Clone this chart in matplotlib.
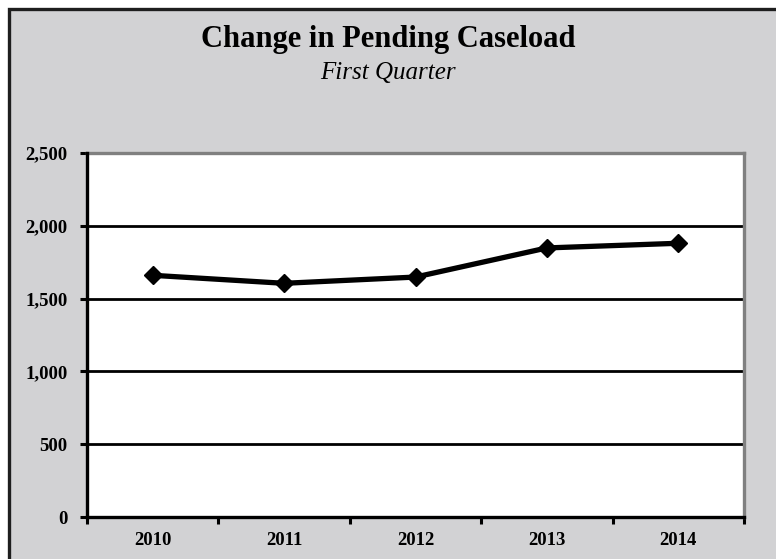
import numpy as np
import matplotlib
matplotlib.use("Agg")
import matplotlib.pyplot as plt
from matplotlib.patches import Rectangle
from matplotlib.ticker import FuncFormatter, FixedLocator

# data
years = ["2010", "2011", "2012", "2013", "2014"]
caseload = [1660, 1605, 1648, 1848, 1880]
y_ticks = [0, 500, 1000, 1500, 2000, 2500]

plt.rcParams['font.family'] = ['Liberation Serif', 'DejaVu Serif']

fig = plt.figure(figsize=(7.76, 5.59), dpi=100, facecolor='white')

# grey panel with dark border on top/left
bg = Rectangle((9 / 776, -0.2), 1.2, 1.2 - 9 / 559, transform=fig.transFigure,
               facecolor='#d2d2d4', edgecolor='#1e1e1e', linewidth=2.4, zorder=0)
fig.add_artist(bg)

ax = fig.add_axes([87 / 776, 42 / 559, (744 - 87) / 776, (517 - 153) / 559])
ax.set_facecolor('white')

x = np.arange(1, len(years) + 1)
ax.plot(x, caseload, color='black', linewidth=3.8, marker='D', markersize=9,
        markerfacecolor='black', markeredgecolor='black', zorder=5, clip_on=False)

ax.set_xlim(0.5, len(years) + 0.5)
ax.set_ylim(0, 2500)

# gridlines
for v in y_ticks[1:-1]:
    ax.axhline(v, color='black', linewidth=2.0, zorder=1)

ax.yaxis.set_major_locator(FixedLocator(y_ticks))
ax.yaxis.set_major_formatter(FuncFormatter(lambda v, p: "{:,}".format(int(v))))
ax.tick_params(axis='y', direction='out', length=5, width=2.2, pad=9,
               labelsize=13.5)

# category boundaries as major ticks, labels at centres
ax.xaxis.set_major_locator(FixedLocator(np.arange(0.5, len(years) + 1.0, 1.0)))
ax.xaxis.set_major_formatter(FuncFormatter(lambda v, p: ""))
ax.xaxis.set_minor_locator(FixedLocator(x))
ax.set_xticklabels(years, minor=True)
ax.tick_params(axis='x', which='major', direction='out', length=5, width=2.2)
ax.tick_params(axis='x', which='minor', length=0, pad=11, labelsize=13.5)

for lab in ax.get_yticklabels() + ax.get_xticklabels(minor=True):
    lab.set_fontweight('bold')

for side in ['left', 'bottom']:
    ax.spines[side].set_color('black')
    ax.spines[side].set_linewidth(2.4)
    ax.spines[side].set_zorder(6)
for side in ['top', 'right']:
    ax.spines[side].set_color('#808080')
    ax.spines[side].set_linewidth(2.4)

fig.text(0.5, 1 - 47 / 559, "Change in Pending Caseload", ha='center',
         va='baseline', fontsize=22, fontweight='bold')
fig.text(0.5, 1 - 79 / 559, "First Quarter", ha='center', va='baseline',
         fontsize=18, fontstyle='italic')

fig.savefig('out.png', dpi=100, facecolor=fig.get_facecolor())
